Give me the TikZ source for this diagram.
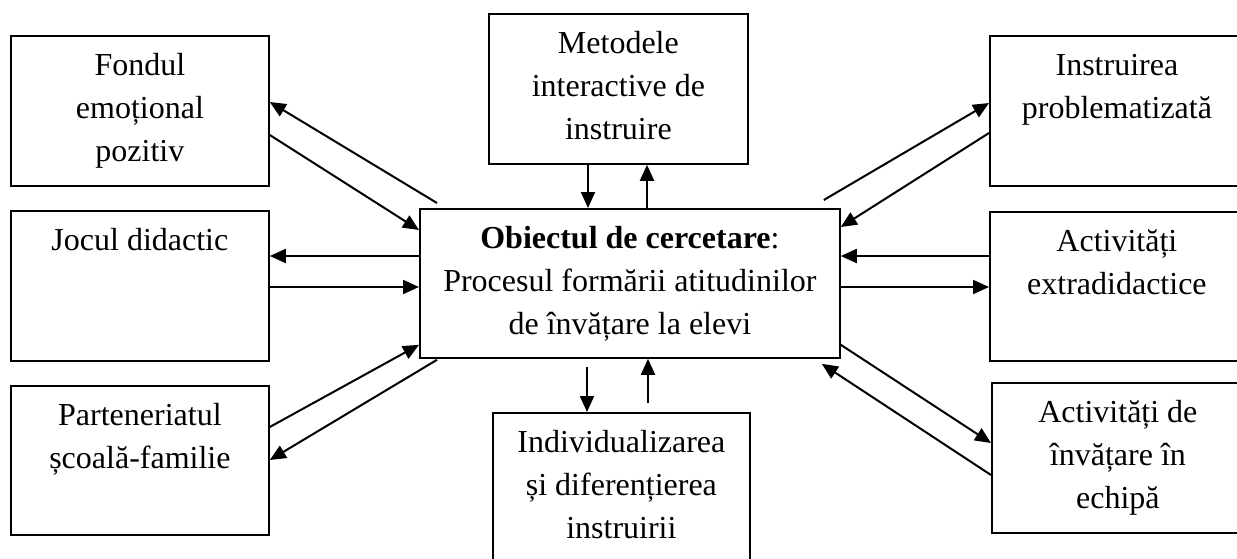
\documentclass[tikz,border=0pt]{standalone}
\usepackage{fontspec}
\setmainfont{Liberation Serif}
\usetikzlibrary{arrows.meta,calc}

\newcommand{\cutie}[3]{\parbox[c][#2][t]{#1}{\centering\rule{0pt}{20pt}#3}}

\tikzset{
  caseta/.style={rectangle,draw,line width=0.9pt,inner sep=0pt,anchor=north west,
    font=\fontsize{16pt}{21.5pt}\selectfont},
  sageata/.style={line width=1pt,-{Triangle[length=8pt,width=7pt]}}
}

\begin{document}
\begin{tikzpicture}[x=0.5pt,y=-0.5pt]
	\useasboundingbox (0,0) rectangle (1237,558);

	%center
	\node[caseta](obiect) at (419,208) {\cutie{210pt}{74.5pt}{\textbf{Obiectul de cercetare}:\\Procesul formării atitudinilor\\de învățare la elevi}};
	%left
	\node[caseta](fondul) at (10,35) {\cutie{129pt}{75pt}{Fondul\\emoțional\\pozitiv}};
	\node[caseta](jocul) at (10,210) {\cutie{129pt}{75pt}{Jocul didactic}};
	\node[caseta](parteneriat) at (10,385) {\cutie{129pt}{74.5pt}{Parteneriatul\\școală-familie}};
	%top and bottom
	\node[caseta](metode) at (488,13) {\cutie{129.5pt}{75pt}{Metodele\\interactive de\\instruire}};
	\node[caseta](individ) at (492,412) {\cutie{128.5pt}{77pt}{Individualizarea\\și diferențierea\\instruirii}};
	%right
	\node[caseta](instruire) at (989,35) {\cutie{127pt}{75pt}{Instruirea\\problematizată}};
	\node[caseta](extra) at (989,211) {\cutie{127pt}{74.5pt}{Activități\\extradidactice}};
	\node[caseta](echipa) at (991,382) {\cutie{126pt}{75pt}{Activități de\\învățare în\\echipă}};

	%arrows left
	\draw[sageata] ($(obiect.north west)+(18,-5)$) -- ($(fondul.north east)+(0,67)$);
	\draw[sageata] ($(fondul.north east)+(0,100)$) -- ($(obiect.north west)+(0,22)$);
	\draw[sageata] ($(obiect.north west)+(0,48)$) -- ($(jocul.north east)+(0,46)$);
	\draw[sageata] ($(jocul.north east)+(0,77)$) -- ($(obiect.north west)+(0,79)$);
	\draw[sageata] ($(parteneriat.north east)+(0,42)$) -- ($(obiect.south west)+(0,-14)$);
	\draw[sageata] ($(obiect.south west)+(18,1)$) -- ($(parteneriat.north east)+(0,75)$);
	%arrows top and bottom
	\draw[sageata] ($(metode.south west)+(100,0)$) -- ($(obiect.north west)+(169,0)$);
	\draw[sageata] ($(obiect.north west)+(228,0)$) -- ($(metode.south west)+(159,0)$);
	\draw[sageata] ($(obiect.south west)+(168,8)$) -- ($(individ.north west)+(95,0)$);
	\draw[sageata] ($(individ.north west)+(156,-9)$) -- ($(obiect.south west)+(229,0)$);
	%arrows right
	\draw[sageata] ($(obiect.north east)+(-17,-8)$) -- ($(instruire.north west)+(0,68)$);
	\draw[sageata] ($(instruire.north west)+(0,98)$) -- ($(obiect.north east)+(0,19)$);
	\draw[sageata] ($(extra.north west)+(0,45)$) -- ($(obiect.north east)+(0,48)$);
	\draw[sageata] ($(obiect.north east)+(0,79)$) -- ($(extra.north west)+(0,76)$);
	\draw[sageata] ($(obiect.south east)+(0,-14)$) -- ($(echipa.north west)+(0,61)$);
	\draw[sageata] ($(echipa.north west)+(0,93)$) -- ($(obiect.south east)+(-19,5)$);
\end{tikzpicture}
\end{document}
